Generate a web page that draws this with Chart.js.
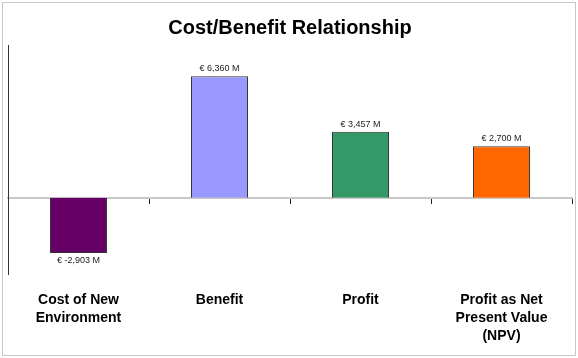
<!DOCTYPE html>
<html>
<head>
<meta charset="utf-8">
<script src="https://cdn.jsdelivr.net/npm/chart.js@4"></script>
<style>
  html, body { margin: 0; padding: 0; background: #fff; }
  #wrap { position: relative; width: 578px; height: 358px; }
  #frame { position: absolute; left: 2px; top: 2px; width: 572px; height: 352px; border: 1px solid #c8c8c8; pointer-events: none; }
  canvas { position: absolute; left: 0; top: 0; }
</style>
</head>
<body>
<div id="wrap">
  <canvas id="c" width="578" height="358"></canvas>
  <div id="frame"></div>
</div>
<script>
const categories = [
  ['Cost of New', 'Environment'],
  ['Benefit'],
  ['Profit'],
  ['Profit as Net', 'Present Value', '(NPV)']
];
const values = [-2903, 6360, 3457, 2700];
const barColors = ['#660066', '#9999ff', '#339966', '#ff6600'];
const yMin = -4000;
const yMax = 8000;

const FONT = "'Liberation Sans', Arial, Helvetica, sans-serif";

const valueLabels = {
  id: 'valueLabels',
  afterDatasetsDraw(chart) {
    const ctx = chart.ctx;
    const meta = chart.getDatasetMeta(0);
    ctx.save();
    ctx.font = '9px ' + FONT;
    ctx.fillStyle = '#222';
    ctx.textAlign = 'center';
    meta.data.forEach((bar, i) => {
      const v = values[i];
      const txt = '€ ' + v.toLocaleString('en-US') + ' M';
      if (v >= 0) {
        ctx.textBaseline = 'bottom';
        ctx.fillText(txt, bar.x, bar.y - 3);
      } else {
        ctx.textBaseline = 'top';
        ctx.fillText(txt, bar.x, bar.y + 3);
      }
    });
    ctx.restore();
  }
};

new Chart(document.getElementById('c'), {
  type: 'bar',
  data: {
    labels: categories,
    datasets: [{
      data: values,
      backgroundColor: barColors,
      borderColor: '#333',
      borderWidth: 1,
      barPercentage: 0.404,
      categoryPercentage: 1.0,
      xAxisID: 'x'
    }]
  },
  options: {
    responsive: false,
    animation: false,
    devicePixelRatio: 1,
    layout: { padding: { left: 8, right: 6, top: 0, bottom: 0 } },
    plugins: {
      legend: { display: false },
      tooltip: { enabled: false },
      title: {
        display: true,
        text: 'Cost/Benefit Relationship',
        color: '#000',
        font: { family: FONT, size: 20, weight: 'bold', lineHeight: 1.2 },
        padding: { top: 16, bottom: 5 }
      }
    },
    scales: {
      x: {
        type: 'category',
        position: { y: 0 },
        offset: true,
        grid: {
          display: true,
          offset: true,
          drawOnChartArea: false,
          drawTicks: true,
          tickLength: 5,
          tickColor: '#222',
          tickWidth: 1
        },
        border: { display: true, color: '#c8c8c8', width: 2 },
        ticks: { display: false }
      },
      x2: {
        type: 'category',
        position: 'bottom',
        offset: true,
        grid: { display: false, drawTicks: false },
        border: { display: false },
        ticks: {
          color: '#000',
          font: { family: FONT, size: 14, weight: 'bold', lineHeight: 1.3 },
          padding: 17,
          maxRotation: 0,
          autoSkip: false
        },
        afterFit(scale) { scale.height = 84; }
      },
      y: {
        min: yMin,
        max: yMax,
        grid: { display: false, drawTicks: false },
        border: { display: true, color: '#333', width: 1 },
        ticks: { display: false }
      }
    }
  },
  plugins: [valueLabels]
});
</script>
</body>
</html>
